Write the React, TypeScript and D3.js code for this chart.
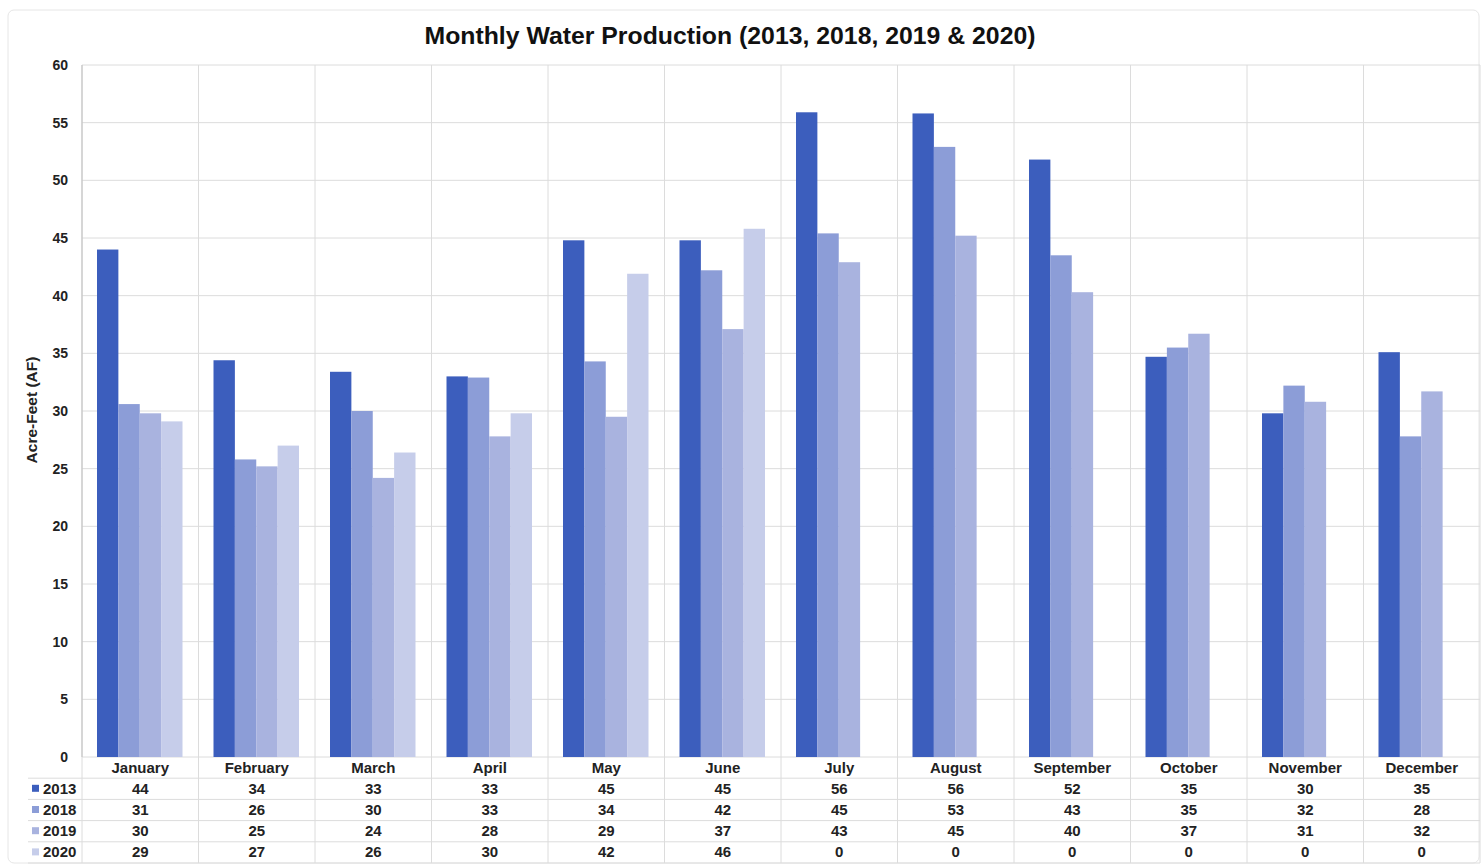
import { useEffect, useRef } from "react";
import * as d3 from "d3";

// categories and series (table shows rounded numbers)
const months = [
  "January", "February", "March", "April", "May", "June",
  "July", "August", "September", "October", "November", "December",
];
const years = ["2013", "2018", "2019", "2020"];

const values2013 = [44.0, 34.4, 33.4, 33.0, 44.8, 44.8, 55.9, 55.8, 51.8, 34.7, 29.8, 35.1];
const values2018 = [30.6, 25.8, 30.0, 32.9, 34.3, 42.2, 45.4, 52.9, 43.5, 35.5, 32.2, 27.8];
const values2019 = [29.8, 25.2, 24.2, 27.8, 29.5, 37.1, 42.9, 45.2, 40.3, 36.7, 30.8, 31.7];
const values2020 = [29.1, 27.0, 26.4, 29.8, 41.9, 45.8, 0, 0, 0, 0, 0, 0];

const table2013 = [44, 34, 33, 33, 45, 45, 56, 56, 52, 35, 30, 35];
const table2018 = [31, 26, 30, 33, 34, 42, 45, 53, 43, 35, 32, 28];
const table2019 = [30, 25, 24, 28, 29, 37, 43, 45, 40, 37, 31, 32];
const table2020 = [29, 27, 26, 30, 42, 46, 0, 0, 0, 0, 0, 0];

const yTicks = [0, 5, 10, 15, 20, 25, 30, 35, 40, 45, 50, 55, 60];

const colors = ["#3c5ebd", "#8c9dd7", "#a9b3df", "#c6cdea"];

export default function App() {
  const ref = useRef<SVGSVGElement>(null);

  useEffect(() => {
    document.body.style.margin = "0";
    const W = 1481;
    const H = 865;
    const left = 82;
    const right = 1480;
    const top = 65;
    const bottom = 757;
    const rowH = 21.2;
    const font = "Liberation Sans, Arial, sans-serif";

    const series = [values2013, values2018, values2019, values2020];
    const tables = [table2013, table2018, table2019, table2020];

    const svg = d3.select(ref.current).attr("width", W).attr("height", H);
    svg.selectAll("*").remove();

    svg.append("rect").attr("width", W).attr("height", H).attr("fill", "#fff");
    svg
      .append("rect")
      .attr("x", 8).attr("y", 10).attr("width", W - 10).attr("height", H - 12)
      .attr("rx", 6).attr("fill", "none").attr("stroke", "#e6e6e6");

    const x = d3.scaleBand().domain(months).range([left, right]).padding(0);
    const xs = d3.scaleBand().domain(years).range([15, x.bandwidth() - 16]).padding(0);
    const y = d3.scaleLinear().domain([0, 60]).range([bottom, top]);

    // horizontal grid
    svg
      .append("g")
      .selectAll("line")
      .data(yTicks)
      .join("line")
      .attr("x1", left).attr("x2", right)
      .attr("y1", (d) => y(d)).attr("y2", (d) => y(d))
      .attr("stroke", "#dcdcdc");

    // vertical grid (category boundaries, through the table)
    const bounds = months.map((m) => x(m)!).concat([right]);
    svg
      .append("g")
      .selectAll("line")
      .data(bounds)
      .join("line")
      .attr("x1", (d) => d).attr("x2", (d) => d)
      .attr("y1", top).attr("y2", bottom + rowH * 5)
      .attr("stroke", "#dcdcdc");

    // bars
    const g = svg.append("g");
    series.forEach((vals, si) => {
      g.selectAll(`.bar${si}`)
        .data(vals.map((v, i) => ({ m: months[i], v })))
        .join("rect")
        .attr("class", `bar${si}`)
        .attr("x", (d) => x(d.m)! + xs(years[si])!)
        .attr("y", (d) => y(d.v))
        .attr("width", xs.bandwidth())
        .attr("height", (d) => bottom - y(d.v))
        .attr("fill", colors[si]);
    });

    // y axis
    svg.append("line")
      .attr("x1", left).attr("x2", left).attr("y1", top).attr("y2", bottom)
      .attr("stroke", "#bfbfbf");
    svg
      .append("g")
      .selectAll("text")
      .data(yTicks)
      .join("text")
      .attr("x", 68)
      .attr("y", (d) => y(d) + 5)
      .attr("text-anchor", "end")
      .attr("font-family", font)
      .attr("font-weight", "bold")
      .attr("font-size", 14)
      .attr("fill", "#222")
      .text((d) => d);

    svg
      .append("text")
      .attr("transform", `translate(37,410) rotate(-90)`)
      .attr("text-anchor", "middle")
      .attr("font-family", font)
      .attr("font-weight", "bold")
      .attr("font-size", 15.5)
      .attr("fill", "#222")
      .text("Acre-Feet (AF)");

    // title
    svg
      .append("text")
      .attr("x", 730)
      .attr("y", 44)
      .attr("text-anchor", "middle")
      .attr("font-family", font)
      .attr("font-weight", "bold")
      .attr("font-size", 24.8)
      .attr("fill", "#111")
      .text("Monthly Water Production (2013, 2018, 2019 & 2020)");

    // data table
    const tg = svg.append("g");
    [1, 2, 3, 4, 5].forEach((r) => {
      tg.append("line")
        .attr("x1", 28).attr("x2", right)
        .attr("y1", bottom + rowH * r).attr("y2", bottom + rowH * r)
        .attr("stroke", "#dcdcdc");
    });

    tg.selectAll(".mlab")
      .data(months)
      .join("text")
      .attr("class", "mlab")
      .attr("x", (d) => x(d)! + x.bandwidth() / 2)
      .attr("y", bottom + rowH / 2 + 5)
      .attr("text-anchor", "middle")
      .attr("font-family", font)
      .attr("font-weight", "bold")
      .attr("font-size", 15)
      .attr("fill", "#222")
      .text((d) => d);

    tables.forEach((vals, si) => {
      const cy = bottom + rowH * (si + 1) + rowH / 2;
      tg.append("rect")
        .attr("x", 32).attr("y", cy - 4).attr("width", 7).attr("height", 7)
        .attr("fill", colors[si]);
      tg.append("text")
        .attr("x", 43)
        .attr("y", cy + 5)
        .attr("font-family", font)
        .attr("font-weight", "bold")
        .attr("font-size", 15)
        .attr("fill", "#222")
        .text(years[si]);
      tg.selectAll(`.v${si}`)
        .data(vals.map((v, i) => ({ m: months[i], v })))
        .join("text")
        .attr("class", `v${si}`)
        .attr("x", (d) => x(d.m)! + x.bandwidth() / 2)
        .attr("y", cy + 5)
        .attr("text-anchor", "middle")
        .attr("font-family", font)
        .attr("font-weight", "bold")
        .attr("font-size", 15)
        .attr("fill", "#222")
        .text((d) => d.v);
    });
  }, []);

  return <svg ref={ref} style={{ display: "block" }}></svg>;
}
